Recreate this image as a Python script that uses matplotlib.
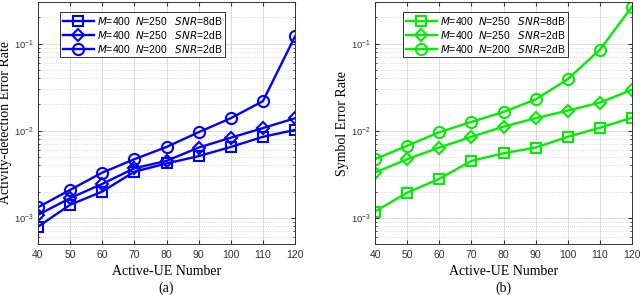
import matplotlib
matplotlib.use("Agg")
import matplotlib.pyplot as plt
from matplotlib.ticker import LogLocator, NullFormatter

plt.rcParams['font.family'] = ['Liberation Sans', 'DejaVu Sans']
plt.rcParams['mathtext.default'] = 'regular'

x = [40, 50, 60, 70, 80, 90, 100, 110, 120]
xticks = [40, 50, 60, 70, 80, 90, 100, 110, 120]

labels = [r"$\it{M}$=400  $\it{N}$=250   $\it{SNR}$=8dB",
          r"$\it{M}$=400  $\it{N}$=250   $\it{SNR}$=2dB",
          r"$\it{M}$=400  $\it{N}$=200   $\it{SNR}$=2dB"]

ad_sq = [7.9e-4, 1.41e-3, 2.0e-3, 3.38e-3, 4.2e-3, 5.1e-3, 6.5e-3, 8.5e-3, 1.02e-2]
ad_di = [1.08e-3, 1.68e-3, 2.45e-3, 3.7e-3, 4.5e-3, 6.4e-3, 8.3e-3, 1.07e-2, 1.39e-2]
ad_ci = [1.32e-3, 2.09e-3, 3.3e-3, 4.7e-3, 6.5e-3, 9.6e-3, 1.39e-2, 2.18e-2, 0.121]

se_sq = [1.18e-3, 1.94e-3, 2.8e-3, 4.5e-3, 5.5e-3, 6.4e-3, 8.5e-3, 1.08e-2, 1.41e-2]
se_di = [3.3e-3, 4.7e-3, 6.4e-3, 8.5e-3, 1.11e-2, 1.39e-2, 1.7e-2, 2.1e-2, 2.95e-2]
se_ci = [4.7e-3, 6.7e-3, 9.6e-3, 1.26e-2, 1.64e-2, 2.28e-2, 3.9e-2, 8.5e-2, 0.265]

fig = plt.figure(figsize=(6.4, 2.95), dpi=100)
ax1 = fig.add_axes([38/640, 1-244/295, (295-38)/640, 242/295])
ax2 = fig.add_axes([375/640, 1-244/295, (632-375)/640, 242/295])

def style(ax, series, color, ylabel, tag, legloc, ylx):
    markers = ['s', 'D', 'o']
    msizes = [6.5, 6.5, 8]
    for ys, m, ms, lab in zip(series, markers, msizes, labels):
        ax.plot(x, ys, color=color, marker=m, markersize=ms, markerfacecolor='none',
                markeredgewidth=1.5, linewidth=1.7, label=lab)
    ax.set_yscale('log')
    ax.set_xlim(40, 120)
    ax.set_ylim(5e-4, 0.3)
    ax.set_xticks(xticks)
    ax.yaxis.set_major_locator(LogLocator(base=10, numticks=10))
    ax.yaxis.set_minor_locator(LogLocator(base=10, subs=range(2, 10), numticks=10))
    ax.yaxis.set_minor_formatter(NullFormatter())
    ax.grid(True, which='major', color='#dcdcdc', linewidth=0.7, linestyle='-')
    ax.grid(True, which='minor', axis='y', color='#cfcfcf', linewidth=0.6, linestyle=':')
    ax.tick_params(direction='in', which='both', top=True, right=True, labelsize=7.5,
                   colors='#333333', length=3, pad=4)
    ax.tick_params(axis='y', labelsize=6.8, pad=3)
    ax.tick_params(which='minor', length=1.5)
    for s in ax.spines.values():
        s.set_color('#333333')
        s.set_linewidth(0.7)
    ax.set_ylabel(ylabel, family=['Liberation Serif'], fontsize=10)
    ax.yaxis.set_label_coords(ylx, 0.5)
    ax.set_xlabel('Active-UE Number', family=['Liberation Serif'], fontsize=10)
    ax.xaxis.set_label_coords(0.5, -0.088)
    ax.text(0.5, -0.182, tag, transform=ax.transAxes, ha='center', va='center',
            family=['Liberation Serif'], fontsize=10)
    leg = ax.legend(loc='upper left', bbox_to_anchor=legloc, fontsize=7.5, frameon=True,
                    fancybox=False, edgecolor='#333333', framealpha=1, handlelength=3.0,
                    borderpad=0.25, labelspacing=0.2, handletextpad=0.3, borderaxespad=0)
    leg.get_frame().set_linewidth(0.7)

style(ax1, [ad_sq, ad_di, ad_ci], '#0000ff', 'Activity-detection Error Rate', '(a)',
      ((60-38)/257, 1-10/242), (12-38)/257)
style(ax2, [se_sq, se_di, se_ci], '#00ee00', 'Symbol Error Rate', '(b)',
      ((403-375)/257, 1-10/242), (349-375)/257)

fig.savefig('out.png', dpi=100)
